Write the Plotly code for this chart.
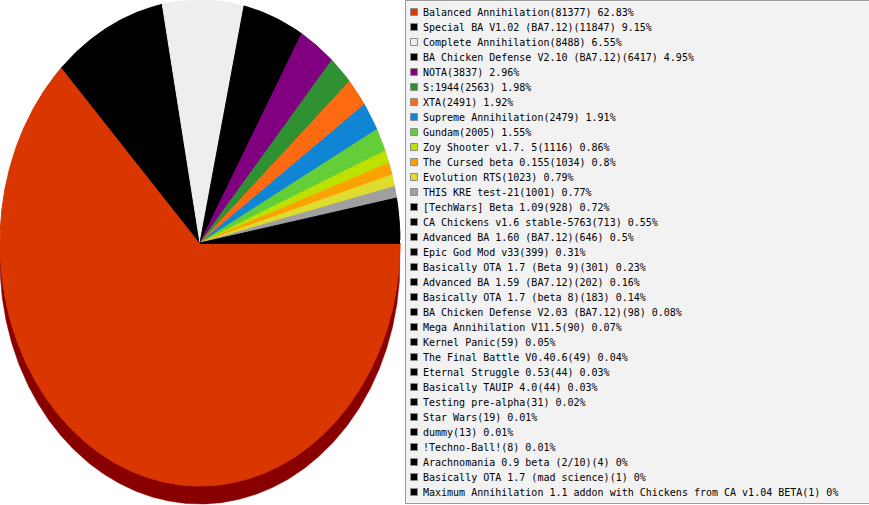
import math
import plotly.graph_objects as go

mods = [
    "Balanced Annihilation", "Special BA V1.02 (BA7.12)", "Complete Annihilation",
    "BA Chicken Defense V2.10 (BA7.12)", "NOTA", "S:1944", "XTA", "Supreme Annihilation",
    "Gundam", "Zoy Shooter v1.7. 5", "The Cursed beta 0.155", "Evolution RTS",
    "THIS KRE test-21", "[TechWars] Beta 1.09", "CA Chickens v1.6 stable-5763",
    "Advanced BA 1.60 (BA7.12)", "Epic God Mod v33", "Basically OTA 1.7 (Beta 9)",
    "Advanced BA 1.59 (BA7.12)", "Basically OTA 1.7 (beta 8)",
    "BA Chicken Defense V2.03 (BA7.12)", "Mega Annihilation V11.5", "Kernel Panic",
    "The Final Battle V0.40.6", "Eternal Struggle 0.53", "Basically TAUIP 4.0",
    "Testing pre-alpha", "Star Wars", "dummy", "!Techno-Ball!",
    "Arachnomania 0.9 beta (2/10)", "Basically OTA 1.7 (mad science)",
    "Maximum Annihilation 1.1 addon with Chickens from CA v1.04 BETA",
]
counts = [81377, 11847, 8488, 6417, 3837, 2563, 2491, 2479, 2005, 1116, 1034, 1023,
          1001, 928, 713, 646, 399, 301, 202, 183, 98, 90, 59, 49, 44, 44, 31, 19,
          13, 8, 4, 1, 1]
colors = ["#D93600", "#000000", "#EEEEEE", "#000000", "#800080", "#2F9132",
          "#FD6A12", "#1185D5", "#64CE38", "#BDE100", "#FCA104", "#DEDC2E",
          "#A0A0A0"] + ["#000000"] * 20
shadow_color = "#880000"

W, H = 869, 505
cx, cy, rx, ry, depth = 200.0, 243.0, 200.0, 243.0, 18.0

total = sum(counts)
fig = go.Figure()

# 3D edge (visible lower half, all within the first slice)
sx, sy = [cx + rx, cx + rx], [cy, cy + depth]
for k in range(0, 361):
    t = math.radians(k / 2)
    sx.append(cx + rx * math.cos(t))
    sy.append(cy + depth + ry * math.sin(t))
sx += [cx - rx, cx - rx]
sy += [cy + depth, cy]
fig.add_trace(go.Scatter(x=sx, y=sy, mode="lines", fill="toself",
                         fillcolor=shadow_color, line=dict(width=0.5, color=shadow_color),
                         hoverinfo="skip", showlegend=False))

# slices: clockwise on screen starting at 3 o'clock
cum = 0.0
for name, v, c in zip(mods, counts, colors):
    a0 = cum / total * 360.0
    cum += v
    a1 = cum / total * 360.0
    n = max(2, int((a1 - a0) * 3) + 2)
    xs, ys = [cx], [cy]
    for k in range(n + 1):
        t = math.radians(a0 + (a1 - a0) * k / n)
        xs.append(cx + rx * math.cos(t))
        ys.append(cy + ry * math.sin(t))
    xs.append(cx)
    ys.append(cy)
    fig.add_trace(go.Scatter(x=xs, y=ys, mode="lines", fill="toself", fillcolor=c,
                             line=dict(width=1.0, color=c), name=name,
                             hoverinfo="name", showlegend=False))

# legend box
fig.add_shape(type="rect", x0=405.5, x1=W + 5, y0=0.5, y1=503.5,
              fillcolor="#F2F2F2", line=dict(color="#9A9A9A", width=1), layer="below")

row0, step = 12.0, 15.0
ly = [row0 + step * i for i in range(len(mods))]
fig.add_trace(go.Scatter(
    x=[414] * len(mods), y=ly, mode="markers",
    marker=dict(symbol="square", size=7, color=colors,
                line=dict(color="#8C8C8C", width=1)),
    hoverinfo="skip", showlegend=False))

for name, v, y in zip(mods, counts, ly):
    pct = round(v / total * 100, 2)
    label = f"{name}({v}) {pct:g}%"
    fig.add_annotation(x=420.5, y=y, xref="x", yref="y", text=label, showarrow=False,
                       xanchor="left", yanchor="middle",
                       font=dict(family="DejaVu Sans Mono", size=10, color="#000000"))

fig.update_layout(
    width=W, height=H, autosize=False,
    margin=dict(l=0, r=0, t=0, b=0, pad=0),
    paper_bgcolor="white", plot_bgcolor="white",
    xaxis=dict(range=[0, W], visible=False, fixedrange=True),
    yaxis=dict(range=[H, 0], visible=False, fixedrange=True),
    showlegend=False,
)

fig.write_html(
    "out.html",
    config={"displayModeBar": False},
    post_script="document.body.style.margin='0';document.body.style.overflow='hidden';",
)
